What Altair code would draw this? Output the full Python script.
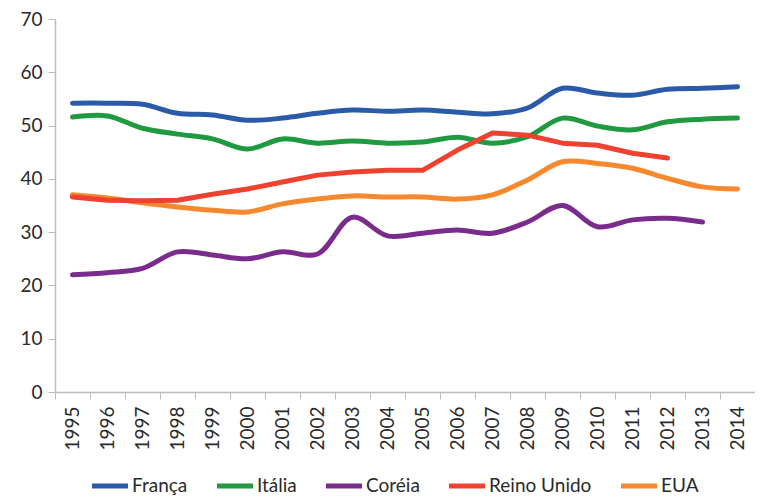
import altair as alt
import pandas as pd

years = [str(y) for y in range(1995, 2015)]
series_names = ["França", "Itália", "Coréia", "Reino Unido", "EUA"]
colors = ["#2B5BA8", "#1F9A41", "#7A2C8C", "#EE4130", "#F6882D"]

franca = [54.2, 54.2, 54.0, 52.3, 52.0, 51.0, 51.4, 52.3, 52.9, 52.7,
          52.9, 52.5, 52.2, 53.3, 57.0, 56.1, 55.7, 56.8, 57.0, 57.3]
italia = [51.6, 51.8, 49.5, 48.4, 47.5, 45.6, 47.5, 46.7, 47.1, 46.7,
          46.9, 47.8, 46.7, 47.9, 51.4, 49.9, 49.2, 50.7, 51.2, 51.4]
coreia = [22.0, 22.4, 23.2, 26.3, 25.7, 25.0, 26.3, 25.9, 32.8, 29.3,
          29.8, 30.4, 29.8, 31.9, 35.0, 31.0, 32.3, 32.6, 31.9, None]
reino_unido = [36.6, 36.0, 35.9, 36.0, 37.1, 38.1, 39.4, 40.7, 41.3, 41.6,
               41.6, 45.4, 48.6, 48.2, 46.7, 46.3, 44.8, 43.9, None, None]
eua = [37.0, 36.4, 35.5, 34.7, 34.1, 33.8, 35.3, 36.2, 36.8, 36.6,
       36.6, 36.2, 37.0, 39.8, 43.2, 42.9, 42.0, 40.1, 38.5, 38.1]

rows = []
for name, vals in zip(series_names, [franca, italia, coreia, reino_unido, eua]):
    for y, v in zip(years, vals):
        if v is not None:
            rows.append({"Ano": y, "Valor": v, "Pais": name})
df = pd.DataFrame(rows)

FONT = "Lato"
TXT = "#2a2a2a"

color = alt.Color(
    "Pais:N",
    scale=alt.Scale(domain=series_names, range=colors),
    sort=series_names,
    legend=alt.Legend(
        title=None,
        orient="none",
        legendX=34,
        legendY=446,
        direction="horizontal",
        symbolType="stroke",
        symbolStrokeWidth=5,
        symbolSize=1300,
        labelFontSize=19,
        labelFont=FONT,
        labelColor=TXT,
        labelOffset=1,
        columnPadding=18,
        labelLimit=200,
    ),
)

x = alt.X(
    "Ano:N",
    sort=years,
    title=None,
    scale=alt.Scale(paddingInner=0, paddingOuter=0),
    axis=alt.Axis(
        labelAngle=-90,
        labelFontSize=19,
        labelFont=FONT,
        labelColor=TXT,
        tickBand="extent",
        tickSize=7,
        tickColor="#bbbbbb",
        domainColor="#bbbbbb",
        domainWidth=1.5,
        labelPadding=7,
        grid=False,
    ),
)
y = alt.Y(
    "Valor:Q",
    title=None,
    scale=alt.Scale(domain=[0, 70], nice=False),
    axis=alt.Axis(
        values=list(range(0, 71, 10)),
        labelFontSize=19,
        labelFont=FONT,
        labelColor=TXT,
        tickSize=7,
        tickColor="#bbbbbb",
        domainColor="#bbbbbb",
        domainWidth=1.5,
        labelPadding=6,
        grid=False,
    ),
)

base = alt.Chart(df)
smooth = base.transform_filter(alt.datum.Pais != "Reino Unido").mark_line(
    strokeWidth=5, interpolate="catmull-rom", strokeCap="round"
).encode(x=x, y=y, color=color)
straight = base.transform_filter(alt.datum.Pais == "Reino Unido").mark_line(
    strokeWidth=5, strokeCap="round", strokeJoin="round"
).encode(x=x, y=y, color=color)

chart = alt.layer(smooth, straight).properties(
    width=700,
    height=373,
    autosize=alt.AutoSizeParams(type="none"),
    padding={"left": 47, "top": 11, "right": 0, "bottom": 107},
).configure_view(stroke=None)

chart.save("out.html", embed_options={"renderer": "svg", "actions": False})
